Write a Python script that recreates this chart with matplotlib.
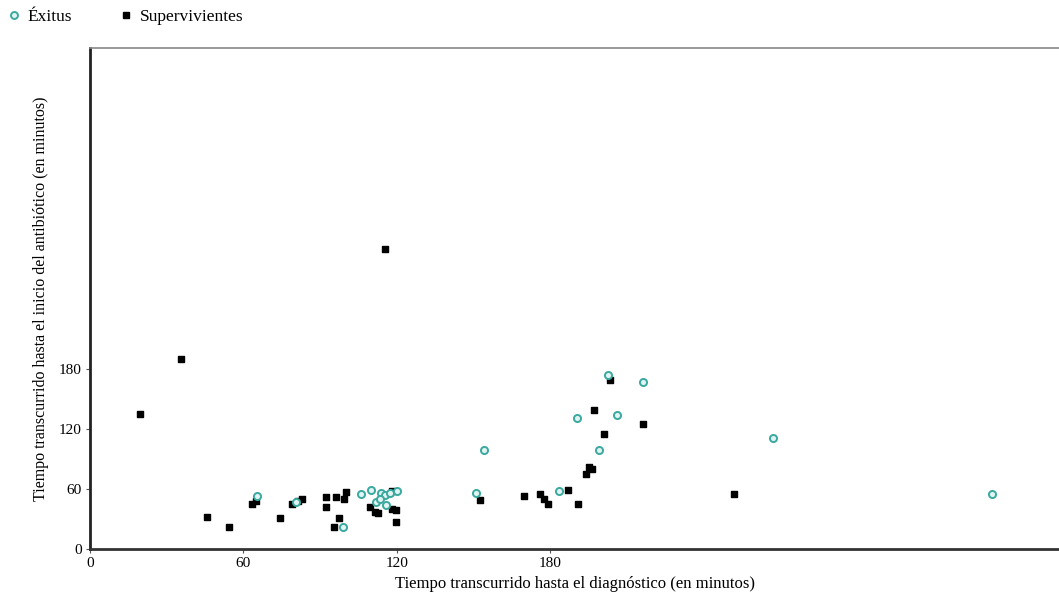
import numpy as np
import matplotlib
matplotlib.use('Agg')
import matplotlib.pyplot as plt
from matplotlib.lines import Line2D

# ---- data (minutes) ----
# Supervivientes: tiempo hasta diagnostico / tiempo hasta antibiotico
surv_diag = [19.6, 35.6, 45.8, 54.4, 63.4, 65.0, 74.4, 79.0, 81.4, 83.0,
             92.4, 92.4, 96.3, 100.0, 99.4, 97.5, 95.5, 109.6, 111.5, 112.7,
             118.2, 119.8, 119.8, 118.2, 115.5, 152.6, 169.9, 176.0, 177.7, 179.0,
             187.0, 191.0, 194.0, 195.3, 196.5, 201.0, 197.0, 203.5, 216.4, 251.7]
surv_abx = [135, 190, 32, 22, 45, 48, 31, 45, 48, 50,
            52, 42, 52, 57, 50, 31, 22, 42, 37, 36,
            40, 39, 27, 58, 300, 49, 53, 55, 50, 45,
            59, 45, 75, 82, 80, 115, 139, 169, 125, 55]

# Exitus
exit_diag = [65.4, 80.6, 99.0, 106.0, 110.0, 112.0, 113.9, 115.5, 115.9, 117.4,
             120.0, 113.5, 151.0, 154.0, 183.5, 190.6, 199.0, 206.0, 202.7, 216.4,
             267.0, 352.6]
exit_abx = [53, 47, 22, 55, 59, 47, 56, 54, 44, 56,
            58, 50, 56, 99, 58, 131, 99, 134, 174, 167,
            111, 55]

ticks = [0, 60, 120, 180]

plt.rcParams['font.family'] = ['Liberation Serif', 'DejaVu Serif']

fig = plt.figure(figsize=(10.59, 5.99), dpi=100)
ax = fig.add_axes([0.085, 0.0835, 0.915, 0.8365])

teal = '#3aa99f'
ax.scatter(surv_diag, surv_abx, marker='s', s=24, color='black', zorder=3)
ax.scatter(exit_diag, exit_abx, marker='o', s=26, facecolor='#e2f4f2',
           edgecolor=teal, linewidth=1.4, zorder=4)

ax.set_xlim(0, 379)
ax.set_ylim(0, 501)
ax.set_xticks(ticks)
ax.set_yticks(ticks)
ax.tick_params(labelsize=11, length=3, color='#555555', pad=3)

ax.spines['right'].set_visible(False)
ax.spines['left'].set_linewidth(2.0)
ax.spines['left'].set_color('#222222')
ax.spines['bottom'].set_linewidth(2.0)
ax.spines['bottom'].set_color('#333333')
ax.spines['top'].set_linewidth(1.2)
ax.spines['top'].set_color('#888888')

ax.set_xlabel('Tiempo transcurrido hasta el diagnóstico (en minutos)', fontsize=12, labelpad=4)
ax.set_ylabel('Tiempo transcurrido hasta el inicio del antibiótico (en minutos)', fontsize=11.5, labelpad=7)

handles = [Line2D([], [], marker='o', linestyle='none', markersize=5,
                  markerfacecolor='#e2f4f2', markeredgecolor=teal, markeredgewidth=1.4),
           Line2D([], [], marker='s', linestyle='none', markersize=5, color='black')]
fig.legend(handles, ['Éxitus', 'Supervivientes'], loc='upper left',
           bbox_to_anchor=(-0.01, 1.012), ncol=2, frameon=False, fontsize=12.5,
           handletextpad=0.3, columnspacing=2.6, handlelength=1.0)

fig.savefig('out.png', dpi=100)
